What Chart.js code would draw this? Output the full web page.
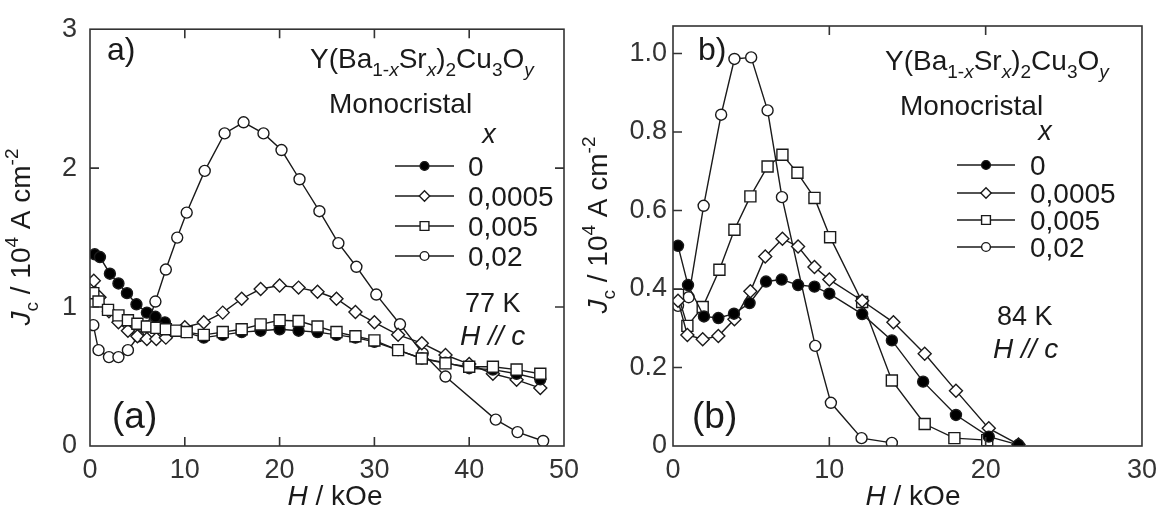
<!DOCTYPE html>
<html>
<head>
<meta charset="utf-8">
<script src="https://cdn.jsdelivr.net/npm/chart.js@4.4.0/dist/chart.umd.min.js"></script>
<style>
  html, body { margin: 0; padding: 0; background: #fff; }
  #wrap { position: relative; width: 1165px; height: 509px; }
  canvas { position: absolute; top: 0; }
  #ca { left: 0; }
  #cb { left: 570px; }
</style>
</head>
<body>
<div id="wrap">
  <canvas id="ca" width="600" height="509"></canvas>
  <canvas id="cb" width="595" height="509"></canvas>
</div>
<script>
// ---- data: panel (a), 77 K ----
const legendLabels = ['0', '0,0005', '0,005', '0,02'];

const Ha0 = [0.5, 1.05, 2.1, 3.0, 3.9, 4.9, 6.0, 6.9, 7.9, 10, 12, 14, 16, 18, 20, 22, 24, 26, 28, 30, 32.5, 35, 37.5, 40, 42.5, 45, 47.5];
const Ja0 = [1.38, 1.36, 1.24, 1.17, 1.10, 1.02, 0.96, 0.93, 0.89, 0.82, 0.78, 0.80, 0.82, 0.83, 0.84, 0.83, 0.82, 0.80, 0.78, 0.75, 0.69, 0.63, 0.60, 0.56, 0.55, 0.52, 0.48];

const Ha1 = [0.4, 1.0, 2.0, 3.0, 4.0, 5.0, 6.0, 7.0, 8.0, 10, 12, 14, 16, 18, 20, 22, 24, 26, 28, 30, 32.5, 35, 37.5, 40, 42.5, 45, 47.5];
const Ja1 = [1.19, 1.07, 0.97, 0.89, 0.83, 0.79, 0.77, 0.77, 0.78, 0.855, 0.89, 0.96, 1.06, 1.13, 1.155, 1.14, 1.11, 1.06, 0.965, 0.89, 0.80, 0.74, 0.655, 0.59, 0.52, 0.476, 0.417];

const Ha2 = [0.35, 0.9, 1.9, 3.0, 4.0, 5.0, 6.0, 7.0, 8.0, 9.1, 10.2, 12, 14, 16, 18, 20, 22, 24, 26, 28, 30, 32.5, 35, 37.5, 40, 42.5, 45, 47.5];
const Ja2 = [1.10, 1.04, 0.98, 0.94, 0.905, 0.88, 0.86, 0.85, 0.84, 0.83, 0.82, 0.80, 0.82, 0.84, 0.875, 0.905, 0.90, 0.86, 0.82, 0.79, 0.76, 0.69, 0.63, 0.595, 0.57, 0.57, 0.55, 0.52];

const Ha3 = [0.35, 0.9, 2.0, 3.0, 4.0, 5.1, 6.0, 6.9, 8.0, 9.2, 10.2, 12.1, 14.2, 16.2, 18.3, 20.2, 22.1, 24.2, 26.2, 28.1, 30.2, 32.7, 35.1, 37.5, 42.8, 45.1, 47.8];
const Ja3 = [0.87, 0.69, 0.64, 0.64, 0.69, 0.79, 0.86, 1.04, 1.27, 1.50, 1.68, 1.98, 2.25, 2.33, 2.25, 2.13, 1.92, 1.69, 1.46, 1.29, 1.09, 0.876, 0.667, 0.50, 0.19, 0.10, 0.036];

// ---- data: panel (b), 84 K ----
const Hb0 = [0.32, 0.96, 1.98, 2.9, 3.9, 4.9, 5.95, 6.95, 8.0, 9.05, 10.0, 12.1, 14.0, 16.0, 18.1, 20.2, 22.1];
const Jb0 = [0.51, 0.41, 0.33, 0.326, 0.337, 0.364, 0.419, 0.424, 0.41, 0.406, 0.388, 0.336, 0.269, 0.164, 0.079, 0.024, 0.003];

const Hb1 = [0.32, 0.92, 1.9, 2.9, 3.93, 4.95, 5.9, 7.0, 8.0, 9.05, 10.0, 12.1, 14.1, 16.1, 18.1, 20.2, 22.1];
const Jb1 = [0.37, 0.283, 0.272, 0.28, 0.323, 0.394, 0.483, 0.528, 0.508, 0.456, 0.424, 0.37, 0.315, 0.235, 0.141, 0.045, 0.004];

const Hb2 = [0.32, 0.92, 1.9, 2.97, 3.93, 4.95, 6.05, 7.0, 7.96, 9.05, 10.05, 12.1, 14.0, 16.1, 18.0, 20.1];
const Jb2 = [0.385, 0.306, 0.354, 0.449, 0.551, 0.636, 0.712, 0.742, 0.696, 0.632, 0.532, 0.367, 0.167, 0.056, 0.02, 0.015];

const Hb3 = [0.32, 1.0, 1.96, 3.08, 3.93, 5.0, 6.05, 6.97, 9.1, 10.1, 12.06, 14.0];
const Jb3 = [0.357, 0.379, 0.612, 0.844, 0.986, 0.99, 0.855, 0.634, 0.255, 0.11, 0.02, 0.008];

const FONT = '"Liberation Sans", Arial, sans-serif';
const INK = '#1a1a1a';

// marker look for each x value (same order as legendLabels)
const markers = [
  { style: 'circle', fill: '#000', r: 5.5 },
  { style: 'rectRot', fill: '#fff', r: 6.5 },
  { style: 'rect', fill: '#fff', r: 7.8 },
  { style: 'circle', fill: '#fff', r: 5.5 }
];

function pts(xs, ys) { return xs.map((x, i) => ({ x: x, y: ys[i] })); }

function ds(i, xs, ys) {
  const m = markers[i];
  return {
    label: legendLabels[i],
    data: pts(xs, ys),
    showLine: true,
    borderColor: INK,
    borderWidth: 1.4,
    pointStyle: m.style,
    pointRadius: m.r,
    pointHoverRadius: m.r,
    pointBackgroundColor: m.fill,
    pointBorderColor: INK,
    pointBorderWidth: 1.4
  };
}

function fnt(size, italic) { return (italic ? 'italic ' : '') + size + 'px ' + FONT; }

// draws text made of parts {t, i (italic), s ('sub'|'sup')}; y is middle of main text
function rich(ctx, parts, x, y, size, align) {
  const small = size * 0.68;
  let total = 0;
  const w = parts.map(p => {
    ctx.font = fnt(p.s ? small : size, p.i);
    const v = ctx.measureText(p.t).width;
    total += v;
    return v;
  });
  let cx = align === 'center' ? x - total / 2 : x;
  const base = y + size * 0.36;
  ctx.textBaseline = 'alphabetic';
  ctx.textAlign = 'left';
  parts.forEach((p, k) => {
    ctx.font = fnt(p.s ? small : size, p.i);
    let dy = 0;
    if (p.s === 'sub') dy = size * 0.28;
    if (p.s === 'sup') dy = -size * 0.42;
    ctx.fillText(p.t, cx, base + dy);
    cx += w[k];
  });
}

const formula = [
  { t: 'Y(Ba' }, { t: '1-', s: 'sub' }, { t: 'x', s: 'sub', i: true }, { t: 'Sr' },
  { t: 'x', s: 'sub', i: true }, { t: ')' }, { t: '2', s: 'sub' }, { t: 'Cu' },
  { t: '3', s: 'sub' }, { t: 'O' }, { t: 'y', s: 'sub', i: true }
];
const yTitle = [
  { t: 'J', i: true }, { t: 'c', s: 'sub' }, { t: ' / 10' }, { t: '4', s: 'sup' },
  { t: ' A cm' }, { t: '-2', s: 'sup' }
];
const xTitle = [{ t: 'H', i: true }, { t: ' / kOe' }];

function decor(cfg) {
  return {
    id: 'decor',
    afterDraw(chart) {
      const ctx = chart.ctx;
      const a = chart.chartArea;
      const xs = chart.scales.x, ys = chart.scales.y;
      ctx.save();
      // frame
      ctx.strokeStyle = '#333';
      ctx.lineWidth = 1.6;
      ctx.strokeRect(a.left, a.top, a.right - a.left, a.bottom - a.top);
      // inward ticks
      ctx.beginPath();
      cfg.xTicks.forEach(v => {
        const px = xs.getPixelForValue(v);
        ctx.moveTo(px, a.bottom); ctx.lineTo(px, a.bottom - 9);
        ctx.moveTo(px, a.top); ctx.lineTo(px, a.top + 9);
      });
      cfg.yTicks.forEach(v => {
        const py = ys.getPixelForValue(v);
        ctx.moveTo(a.left, py); ctx.lineTo(a.left + 9, py);
      });
      cfg.yTicksRight.forEach(v => {
        const py = ys.getPixelForValue(v);
        ctx.moveTo(a.right, py); ctx.lineTo(a.right - 9, py);
      });
      ctx.stroke();

      ctx.fillStyle = INK;
      const t = cfg.text;
      rich(ctx, [{ t: t.tag }], t.tagX, 48, 32, 'left');
      rich(ctx, formula, t.fX, t.fY, 28, 'left');
      rich(ctx, [{ t: 'Monocristal' }], t.mX, t.mY, 28, 'left');
      rich(ctx, [{ t: 'x', i: true }], t.xX, t.xY, 27, 'center');
      rich(ctx, [{ t: t.temp }], t.kX, t.kY, 27, 'left');
      rich(ctx, [{ t: 'H // c', i: true }], t.hX, t.hY, 28, 'left');
      rich(ctx, [{ t: t.big }], t.bX, 415, 37, 'left');
      rich(ctx, xTitle, t.xtX, 495, 28, 'center');
      ctx.save();
      ctx.translate(t.ytX, t.ytY);
      ctx.rotate(-Math.PI / 2);
      rich(ctx, yTitle, 0, 0, 28, 'center');
      ctx.restore();

      // legend
      legendLabels.forEach((lab, i) => {
        const y = t.legY[i];
        const m = markers[i];
        ctx.strokeStyle = INK;
        ctx.lineWidth = 1.6;
        ctx.beginPath();
        ctx.moveTo(t.lx1, y); ctx.lineTo(t.lx2, y);
        ctx.stroke();
        ctx.fillStyle = m.fill;
        ctx.strokeStyle = INK;
        ctx.lineWidth = 1.4;
        Chart.helpers.drawPoint(ctx, { pointStyle: m.style, radius: m.r * 0.8, rotation: 0, borderWidth: 1.4 }, (t.lx1 + t.lx2) / 2, y);
        ctx.fillStyle = INK;
        rich(ctx, [{ t: lab }], t.ltX, y, 28, 'left');
      });
      ctx.restore();
    }
  };
}

function makeChart(id, cfg) {
  return new Chart(document.getElementById(id), {
    type: 'scatter',
    data: { datasets: cfg.datasets },
    options: {
      responsive: false,
      animation: false,
      devicePixelRatio: 1,
      layout: { padding: { top: 26, right: cfg.padRight, left: 0, bottom: 0 } },
      plugins: { legend: { display: false }, tooltip: { enabled: false } },
      scales: {
        x: {
          type: 'linear', min: 0, max: cfg.xMax,
          border: { display: false },
          grid: { display: false, drawTicks: false },
          ticks: { stepSize: 10, padding: 8, color: '#333', includeBounds: false, font: { family: FONT, size: 27 } },
          afterFit: s => { s.height = 63; }
        },
        y: {
          type: 'linear', min: 0, max: cfg.yMax,
          border: { display: false },
          grid: { display: false, drawTicks: false },
          ticks: {
            stepSize: cfg.yStep, padding: cfg.yPad, color: '#333', includeBounds: false,
            font: { family: FONT, size: 27 }, callback: cfg.yFmt
          },
          afterFit: s => { s.width = cfg.yWidth; }
        }
      }
    },
    plugins: [decor(cfg)]
  });
}

makeChart('ca', {
  datasets: [ds(2, Ha2, Ja2), ds(0, Ha0, Ja0), ds(1, Ha1, Ja1), ds(3, Ha3, Ja3)],
  xMax: 50, yMax: 3, yStep: 1, yPad: 13, yWidth: 90, padRight: 36,
  yFmt: v => String(v),
  xTicks: [10, 20, 30, 40], yTicks: [1, 2], yTicksRight: [1, 2],
  text: {
    tag: 'a)', tagX: 107, fX: 310, fY: 58, mX: 329, mY: 103, xX: 489, xY: 133,
    temp: '77 K', kX: 465, kY: 302, hX: 460, hY: 335, big: '(a)', bX: 112,
    xtX: 335, ytX: 20, ytY: 237,
    legY: [166, 196, 226, 256], lx1: 395, lx2: 454, ltX: 468
  }
});

makeChart('cb', {
  datasets: [ds(0, Hb0, Jb0), ds(1, Hb1, Jb1), ds(2, Hb2, Jb2), ds(3, Hb3, Jb3)],
  xMax: 30, yMax: 1.07, yStep: 0.2, yPad: 6, yWidth: 103, padRight: 20,
  yFmt: v => (Math.abs(v) < 1e-9 ? '0' : v.toFixed(1)),
  xTicks: [10, 20], yTicks: [0.2, 0.4, 0.6, 0.8, 1.0], yTicksRight: [],
  text: {
    tag: 'b)', tagX: 128, fX: 315, fY: 60, mX: 330, mY: 105, xX: 475, xY: 130,
    temp: '84 K', kX: 427, kY: 315, hX: 423, hY: 348, big: '(b)', bX: 122,
    xtX: 343, ytX: 27, ytY: 225,
    legY: [165, 193, 220, 247], lx1: 387, lx2: 445, ltX: 460
  }
});
</script>
</body>
</html>
